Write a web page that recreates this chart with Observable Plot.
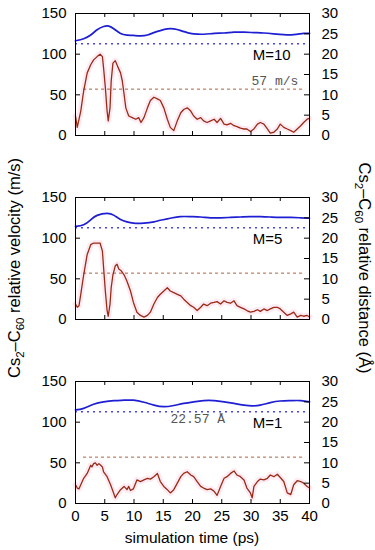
<!DOCTYPE html>
<html><head><meta charset="utf-8">
<script src="https://cdn.jsdelivr.net/npm/d3@7"></script>
<script src="https://cdn.jsdelivr.net/npm/@observablehq/plot@0.6"></script>
<style>body{margin:0;background:#fff} svg{display:block}</style>
</head><body><div id="chart"></div>
<script>
const panels = ["M=10", "M=5", "M=1"];

// velocity (m/s) per panel
const velTimeM10 = [0,0.3,0.9,1.4,2.0,2.6,3.1,3.7,4.2,4.6,4.8,5.1,5.4,5.6,5.9,6.1,6.4,6.8,7.2,7.7,8.0,8.3,8.6,9.1,9.7,10.3,10.8,11.2,11.7,12.3,12.8,13.4,14.0,14.5,15.1,15.7,16.2,16.8,17.4,18.0,18.5,19.1,19.7,20.2,20.8,21.4,21.9,22.5,23.1,23.7,24.2,24.8,25.4,25.9,26.5,27.1,27.6,28.2,28.8,29.3,29.9,30.5,31.1,31.6,32.2,32.8,33.3,33.9,34.5,35.0,35.6,36.2,36.8,37.3,37.9,38.5,39.0,39.6,40];
const velM10 = [24,10,30,55,77,87,93,97,100,97,83,59,30,18,34,67,89,92,85,77,67,51,34,24,22,20,22,16,22,34,43,47,45,43,34,20,10,6,18,28,32,34,30,24,20,22,18,16,18,20,16,21,14,13,15,12,11,9,8,8,5,8,14,16,14,8,3,4,8,14,10,8,6,4,8,12,16,20,21];

const velTimeM5 = [0,0.3,0.6,0.9,1.4,2.0,2.6,3.1,3.7,4.2,4.6,4.8,5.1,5.4,5.6,5.9,6.1,6.4,6.8,7.1,7.4,7.8,8.3,8.8,9.4,9.9,10.5,11.1,11.7,12.3,12.8,13.4,14.0,14.5,15.1,15.7,16.2,16.8,17.4,18.0,18.5,19.1,19.7,20.2,20.8,21.4,21.9,22.5,23.1,23.7,24.2,24.8,25.4,25.9,26.5,27.1,27.6,28.2,28.8,29.3,29.9,30.5,31.1,31.6,32.2,32.8,33.3,33.9,34.5,35.0,35.6,36.2,36.8,37.3,37.9,38.5,39.0,39.6,40];
const velM5 = [19,15,17,31,55,80,92,94,94,94,84,64,35,11,4,19,39,55,66,68,62,60,55,47,35,21,9,5,3,5,9,19,27,31,35,39,35,33,31,29,25,21,17,15,11,15,19,17,20,21,22,19,23,21,20,23,17,15,13,11,9,10,12,10,13,11,13,15,15,13,9,5,7,9,3,5,4,5,3];

const velTimeM1 = [0,0.3,0.6,0.9,1.4,2.0,2.6,2.8,3.1,3.4,3.7,4.0,4.3,4.6,4.8,5.4,6.0,6.6,6.8,7.1,7.7,8.3,8.8,9.1,9.4,9.9,10.5,11.1,11.7,12.3,12.8,13.4,14.0,14.5,15.1,15.7,16.2,16.8,17.4,18.0,18.5,19.1,19.7,20.2,20.8,21.4,21.9,22.5,23.1,23.7,24.2,24.8,25.4,25.9,26.5,27.1,27.6,28.2,28.8,29.3,29.9,30.2,30.5,31.1,31.6,32.2,32.8,33.3,33.9,34.5,35.0,35.6,36.2,36.8,37.3,37.9,38.5,39.0,39.6,40];
const velM1 = [23,19,18,23,31,37,47,45,49,50,47,49,47,45,39,33,23,11,7,11,17,21,17,21,16,18,29,27,29,31,30,33,37,27,21,17,13,17,25,33,37,39,35,33,27,21,19,17,18,15,10,21,31,33,37,40,35,33,29,19,13,7,21,27,30,29,31,35,33,36,32,27,13,11,23,28,27,25,21,19];

// distance (Å) per panel
const distTimeM10 = [0,1.4,2.6,3.7,4.8,5.7,6.6,7.7,8.8,9.9,11.1,12.3,13.4,14.5,15.7,16.8,18.0,19.1,20.2,21.9,23.7,25.4,27.1,28.8,30.5,32.2,33.9,35.6,37.3,39.0,40];
const distM10 = [23.3,23.8,24.7,26.0,26.8,26.9,26.2,25.1,24.7,24.6,24.5,24.7,25.3,25.8,26.2,26.2,25.8,25.3,25.0,24.9,25.1,25.2,25.4,25.4,25.3,25.2,25.0,24.8,24.8,25.1,25.1];
const distTimeM5 = [0,1.4,2.6,3.7,5.4,6.6,7.7,8.8,9.9,11.7,13.4,14.5,16.2,17.9,19.7,21.4,23.1,24.8,26.5,28.2,29.9,31.6,33.3,35.0,36.8,38.5,40];
const distM5 = [22.9,23.3,24.5,25.6,26.1,25.6,24.6,24.0,23.7,23.7,24.0,24.4,24.9,25.3,25.3,25.2,25.0,25.0,25.1,25.2,25.3,25.3,25.2,25.1,25.1,25.0,24.9];
const distTimeM1 = [0,1.4,3.1,4.8,6.6,8.3,9.9,11.7,13.4,15.1,16.8,18.5,20.2,21.9,23.7,25.4,27.1,28.8,30.2,31.6,33.3,35.0,36.8,38.5,40];
const distM1 = [23.0,23.4,24.4,25.0,25.3,25.4,25.4,24.9,24.2,23.8,24.1,24.6,25.0,25.3,25.3,25.0,24.6,24.2,24.0,24.2,24.8,25.2,25.3,25.3,25.0];

const refVelocity = 57;      // m/s
const refDistance = 22.57;   // Å
const xTicks = [0,5,10,15,20,25,30,35,40];
const leftTicks = [0,50,100,150];
const rightTicks = [0,5,10,15,20,25,30];
const ratio = 150 / 30; // right-axis Å -> left-axis scale

const panelLabelX = 30.3, panelLabelY = 99;
const velNote = [{panel: "M=10", t: 38.1, v: 67.7, text: "57 m/s"}];
const distNote = [{panel: "M=1", t: 20.9, v: 104, text: "22.57 Å"}];

const velRows = [], distRows = [];
const series = [
  ["M=10", velTimeM10, velM10, distTimeM10, distM10],
  ["M=5", velTimeM5, velM5, distTimeM5, distM5],
  ["M=1", velTimeM1, velM1, distTimeM1, distM1]
];
for (const [panel, vt, vv, dt, dv] of series) {
  vt.forEach((t, i) => velRows.push({panel, t, v: vv[i]}));
  dt.forEach((t, i) => distRows.push({panel, t, y: dv[i] * ratio}));
}
const refRows = panels.map(panel => ({panel, v: refVelocity, d: refDistance * ratio}));
const labelRows = panels.map(panel => ({panel, t: panelLabelX, v: panelLabelY, text: panel}));

const W = 375, H = 550, mL = 75, mR = 66, mT = 12, mB = 45;
const frameW = W - mL - mR;
const padIn = 0.335;
const bandH = (H - mT - mB) / (3 - padIn) * (1 - padIn);
const tick = 5;

const font = "'Liberation Sans', Arial, Helvetica, sans-serif";
const mono = "'Liberation Mono', 'DejaVu Sans Mono', monospace";
const chart = Plot.plot({
  width: W, height: H,
  marginTop: mT, marginBottom: mB, marginLeft: mL, marginRight: mR,
  style: {fontFamily: font, fontSize: "15px", background: "#fff", color: "#000"},
  x: {domain: [0, 40]},
  y: {domain: [0, 150]},
  fy: {domain: panels, axis: null, paddingInner: padIn, paddingOuter: 0},
  marks: [
    Plot.line(velRows, {x: "t", y: "v", fy: "panel", stroke: "#fde3ee", strokeWidth: 6, strokeOpacity: 0.75}),
    Plot.ruleY(refRows, {y: "v", fy: "panel", stroke: "#a0522d", strokeDasharray: "3,3", strokeWidth: 0.9, insetLeft: 8, insetRight: 5}),
    Plot.ruleY(refRows, {y: "d", fy: "panel", stroke: "#4747e6", strokeDasharray: "2,4", strokeWidth: 1.4}),
    Plot.line(velRows, {x: "t", y: "v", fy: "panel", stroke: "#982b15", strokeWidth: 1.3}),
    Plot.line(distRows, {x: "t", y: "y", fy: "panel", stroke: "#1e1ed2", strokeWidth: 1.7, curve: "natural"}),
    Plot.text(labelRows, {x: "t", y: "v", fy: "panel", text: "text", textAnchor: "start", fontSize: 15, fill: "#000"}),
    Plot.text(velNote, {x: "t", y: "v", fy: "panel", text: "text", textAnchor: "end", fontFamily: mono, fontSize: 13, fill: "#555"}),
    Plot.text(distNote, {x: "t", y: "v", fy: "panel", text: "text", textAnchor: "middle", fontFamily: mono, fontSize: 13, fill: "#555"}),
    Plot.frame({stroke: "#000", strokeWidth: 1}),
    // inward ticks on all four sides of each panel
    Plot.tickY(leftTicks.slice(1, -1), {y: d => d, stroke: "#000", insetRight: frameW - tick}),
    Plot.tickY(rightTicks.slice(1, -1), {y: d => d * ratio, stroke: "#000", insetLeft: frameW - tick}),
    Plot.tickX(xTicks.slice(1, -1), {x: d => d, stroke: "#000", insetTop: bandH - tick}),
    Plot.tickX(xTicks.slice(1, -1), {x: d => d, stroke: "#000", insetBottom: bandH - tick}),
    Plot.axisY({anchor: "left", ticks: leftTicks, tickSize: 0, tickPadding: 9, fontSize: 15, label: null}),
    Plot.axisY({anchor: "right", ticks: rightTicks.map(d => d * ratio), tickFormat: d => d / ratio, tickSize: 0, tickPadding: 12, fontSize: 15, label: null}),
    Plot.axisX({anchor: "bottom", ticks: xTicks, tickSize: 0, tickPadding: 7, fontSize: 15, label: null})
  ]
});
document.getElementById("chart").appendChild(chart);

const svg = d3.select(chart);
function rotLabel(x, y, angle, rest) {
  const t = svg.append("text")
    .attr("transform", `translate(${x},${y}) rotate(${angle})`)
    .attr("text-anchor", "middle")
    .style("font-family", font).style("font-size", "16.5px").attr("fill", "#000");
  t.append("tspan").text("Cs");
  t.append("tspan").attr("dy", 4).style("font-size", "11.5px").text("2");
  t.append("tspan").attr("dy", -4).text("–C");
  t.append("tspan").attr("dy", 4).style("font-size", "11.5px").text("60");
  t.append("tspan").attr("dy", -4).text(rest);
}
rotLabel(20, 268, -90, " relative velocity (m/s)");
rotLabel(359, 268, 90, " relative distance (Å)");
svg.append("text").attr("x", 192).attr("y", 543).attr("text-anchor", "middle")
  .style("font-family", font).style("font-size", "15.5px").attr("fill", "#000")
  .text("simulation time (ps)");
</script>
</body></html>
